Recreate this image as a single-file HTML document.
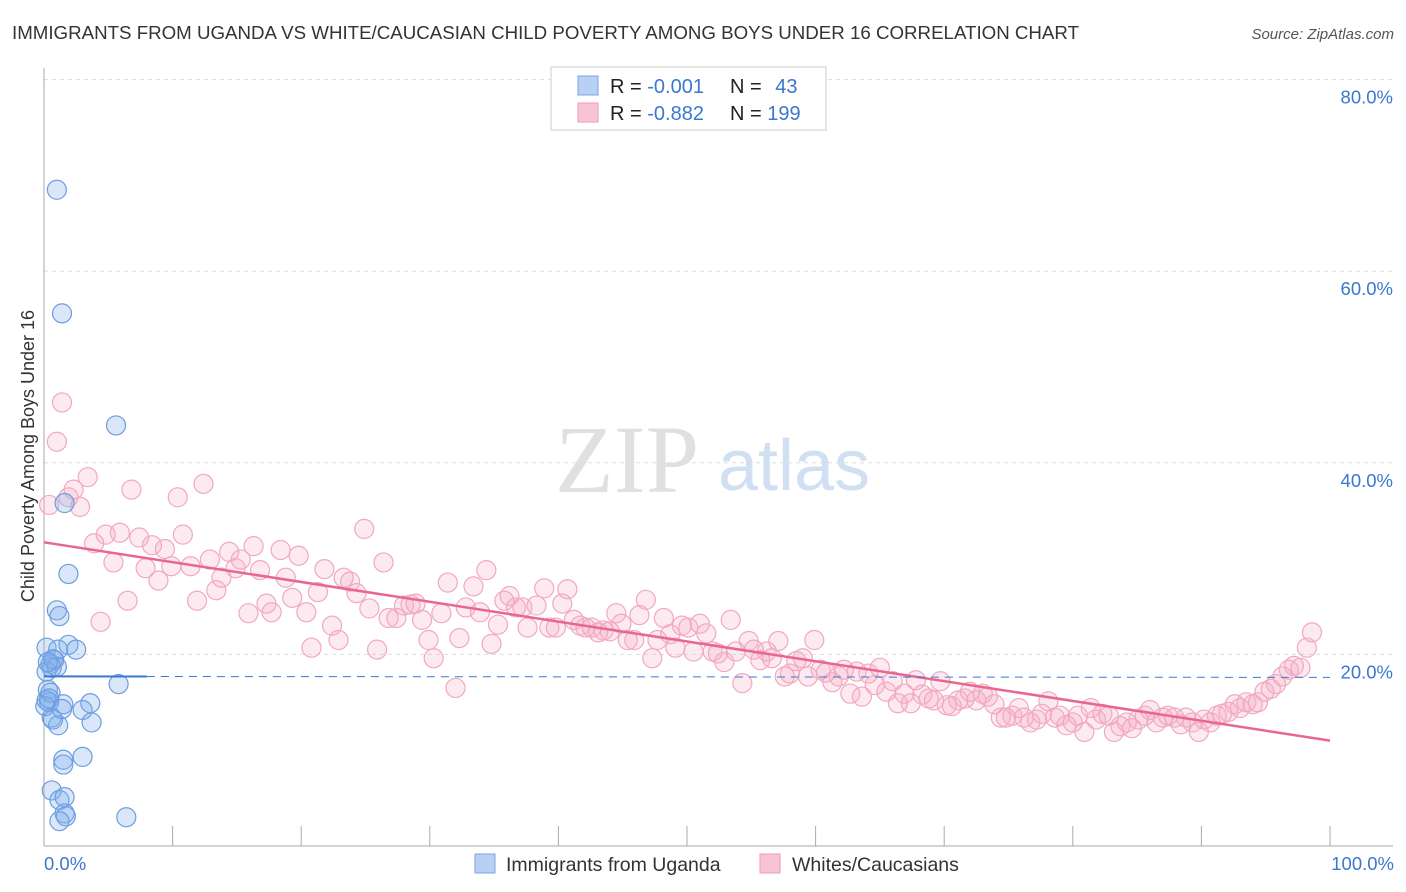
<!DOCTYPE html>
<html><head><meta charset="utf-8"><style>
body{margin:0;background:#fff;font-family:"Liberation Sans",sans-serif;}
#c{position:relative;width:1406px;height:892px;overflow:hidden;}
</style></head><body>
<div id="c">
<svg id="s" width="1406" height="892" xmlns="http://www.w3.org/2000/svg">
<text x="12" y="39" font-size="18" fill="#333" textLength="1067" lengthAdjust="spacingAndGlyphs">IMMIGRANTS FROM UGANDA VS WHITE/CAUCASIAN CHILD POVERTY AMONG BOYS UNDER 16 CORRELATION CHART</text>
<text x="1394" y="39" font-size="15" fill="#555" font-style="italic" text-anchor="end">Source: ZipAtlas.com</text>
<text x="34" y="456" font-size="18" fill="#333" text-anchor="middle" transform="rotate(-90 34 456)">Child Poverty Among Boys Under 16</text>
<text x="555" y="492" font-size="96" fill="#e0e0e0" font-family="Liberation Serif,serif">ZIP</text>
<text x="718" y="490" font-size="72" fill="#d0e0f2">atlas</text>
<g id="grid"></g><g id="axes"></g><g id="pts"></g><g id="lines"></g>
<g>
<rect x="551" y="67" width="275" height="63" fill="#fff" stroke="#ccc"/>
<rect x="578" y="76" width="20" height="19" fill="#b8d0f4" stroke="#7aa6e0"/>
<rect x="578" y="103" width="20" height="19" fill="#f8c4d4" stroke="#ee9ab6"/>
<text x="610" y="93" font-size="20" fill="#222">R = <tspan fill="#3a78d0">-0.001</tspan></text>
<text x="730" y="93" font-size="20" fill="#222">N = <tspan fill="#3a78d0" dx="8">43</tspan></text>
<text x="610" y="120" font-size="20" fill="#222">R = <tspan fill="#3a78d0">-0.882</tspan></text>
<text x="730" y="120" font-size="20" fill="#222">N = <tspan fill="#3a78d0">199</tspan></text>
</g>
<g>
<rect x="475" y="854" width="20" height="19" fill="#b8d0f4" stroke="#7aa6e0"/>
<text x="506" y="871" font-size="19.5" fill="#333">Immigrants from Uganda</text>
<rect x="760" y="854" width="20" height="19" fill="#f8c4d4" stroke="#ee9ab6"/>
<text x="792" y="871" font-size="19.5" fill="#333">Whites/Caucasians</text>
</g>
<text x="44" y="870" font-size="18.5" fill="#3a78d0">0.0%</text>
<text x="1394" y="870" font-size="18.5" fill="#3a78d0" text-anchor="end">100.0%</text>
</svg>
</div>
<script>
const yTicks=[20,40,60,80];
const yTickLabels=["20.0%","40.0%","60.0%","80.0%"];
const xTicks=[10,20,30,40,50,60,70,80,90,100];
const blueX=[1.0,1.4,5.6,1.6,1.9,1.0,1.2,0.2,1.1,1.9,2.5,0.8,0.5,0.6,0.2,5.8,0.3,0.2,0.4,1.5,3.6,3.0,3.7,0.6,1.1,3.0,1.5,1.5,0.6,1.2,1.6,1.6,1.7,1.2,6.4,0.5,0.1,0.7,0.7,0.4,1.0,0.3,1.4];
const blueY=[68.5,55.6,43.9,35.8,28.4,24.6,24.0,20.7,20.5,21.0,20.5,19.4,19.0,18.6,18.2,16.9,16.3,15.2,15.0,14.8,14.9,14.2,12.9,13.4,12.6,9.3,9.0,8.5,5.8,4.8,5.1,3.4,3.1,2.6,3.0,16.0,14.6,19.5,13.2,15.4,18.7,19.2,14.3];
const pinkX=[0.4,1.0,1.4,1.9,2.3,2.8,3.4,3.9,4.4,4.8,5.4,5.9,6.5,6.8,7.4,7.9,8.4,8.9,9.4,9.9,10.4,10.8,11.4,11.9,12.4,12.9,13.4,13.8,14.4,14.9,15.3,15.9,16.3,16.8,17.3,17.7,18.4,18.8,19.3,19.8,20.4,20.8,21.3,21.8,22.4,22.9,23.3,23.8,24.3,24.9,25.3,25.9,26.4,26.8,27.4,28.0,28.5,28.9,29.4,29.9,30.3,30.9,31.4,32.0,32.3,32.8,33.4,33.9,34.4,34.8,35.3,35.8,36.2,36.7,37.2,37.6,38.3,38.9,39.3,39.8,40.3,40.7,41.2,41.7,42.1,42.6,43.1,43.5,44.0,44.5,44.9,45.4,45.9,46.3,46.8,47.3,47.7,48.2,48.7,49.1,49.6,50.1,50.5,51.0,51.5,52.0,52.4,52.9,53.4,53.8,54.3,54.8,55.2,55.7,56.2,56.6,57.1,57.6,58.0,58.5,59.0,59.4,59.9,60.4,60.8,61.3,61.8,62.2,62.7,63.2,63.6,64.1,64.6,65.0,65.5,66.0,66.4,66.9,67.4,67.8,68.3,68.8,69.2,69.7,70.2,70.6,71.1,71.6,72.0,72.5,73.0,73.4,73.9,74.4,74.8,75.3,75.8,76.2,76.7,77.2,77.6,78.1,78.6,79.0,79.5,80.0,80.4,80.9,81.4,81.8,82.3,82.8,83.2,83.7,84.2,84.6,85.1,85.6,86.0,86.5,87.0,87.4,87.9,88.4,88.8,89.3,89.8,90.2,90.7,91.2,91.6,92.1,92.6,93.0,93.5,94.0,94.4,94.9,95.4,95.8,96.3,96.8,97.2,97.7,98.2,98.6,99.0];
const pinkY=[35.6,42.2,46.3,36.4,37.2,35.4,38.5,31.6,23.4,32.5,29.6,32.7,25.6,37.2,32.2,29.0,31.4,27.7,31.0,29.2,36.4,32.5,29.2,25.6,37.8,29.9,26.7,28.0,30.7,29.0,29.9,24.3,31.3,28.8,25.3,24.4,30.9,28.0,25.9,30.3,24.4,20.7,26.5,28.9,23.0,21.5,28.0,27.6,26.4,33.1,24.8,20.5,29.6,23.8,23.8,25.1,25.2,25.3,23.6,21.5,19.6,24.3,27.5,16.5,21.7,24.9,27.1,24.4,28.8,21.1,23.1,25.6,26.1,24.9,24.9,22.8,25.1,26.9,22.8,22.8,25.3,26.8,23.6,23.0,22.8,22.8,22.3,22.5,22.4,24.3,23.2,21.5,21.5,24.1,25.7,19.6,21.5,23.8,22.1,20.7,23.0,22.8,20.3,23.2,22.2,20.3,20.1,19.2,23.6,20.3,17.0,21.4,20.5,19.4,20.3,19.6,21.4,17.7,18.0,19.3,19.6,17.7,21.5,18.4,18.1,17.1,17.7,18.4,15.9,18.2,15.6,18.0,16.8,18.6,16.1,17.2,14.9,15.9,14.9,17.3,15.8,15.4,15.2,17.2,14.7,14.6,15.2,15.4,16.1,15.2,15.9,15.6,14.8,13.4,13.4,13.6,14.4,13.4,12.9,13.2,13.8,15.1,13.4,13.6,12.6,12.9,13.6,11.9,14.4,13.2,13.8,13.6,11.9,12.5,12.9,12.3,13.2,13.6,14.2,12.9,13.4,13.6,13.4,12.7,13.4,12.9,11.9,13.2,12.9,13.6,13.8,14.0,14.8,14.4,15.0,14.8,15.0,16.1,16.4,16.9,17.7,18.4,18.8,18.6,20.7,22.3];
const blueTrend=[17.7,17.6];
const pinkTrend=[31.7,11.0];

const NS="http://www.w3.org/2000/svg";
const X=v=>44+v*12.86, Y=v=>846-v*9.58;
function mk(tag,attrs,parent){const e=document.createElementNS(NS,tag);for(const k in attrs)e.setAttribute(k,attrs[k]);parent.appendChild(e);return e;}
const grid=document.getElementById('grid'),axes=document.getElementById('axes'),pts=document.getElementById('pts'),lines=document.getElementById('lines');
yTicks.forEach((t,i)=>{
  const l=mk('line',{x1:44,x2:1393,y1:Y(t),y2:Y(t),stroke:'#ddd','stroke-dasharray':'4 4'},grid);
  
  
  const tx=mk('text',{x:1393,y:Y(t)+24,'font-size':18.5,fill:'#3a78d0','text-anchor':'end'},grid);
  tx.textContent=yTickLabels[i];
  
  
});
const ya=mk('line',{x1:44,x2:44,y1:68,y2:846,stroke:'#aaa'},axes);


const xa=mk('line',{x1:44,x2:1393,y1:846,y2:846,stroke:'#aaa'},axes);


xTicks.forEach(t=>{
  const l=mk('line',{x1:X(t),x2:X(t),y1:826,y2:846,stroke:'#aaa'},axes);
  
  
});
for(let i=0;i<Math.min(pinkX.length,pinkY.length);i++){
  const c=mk('circle',{cx:X(pinkX[i]),cy:Y(pinkY[i]),r:9.5,fill:'rgba(244,170,195,0.25)',stroke:'#f2a8c0','stroke-width':1.2},pts);
  
  
}
for(let i=0;i<Math.min(blueX.length,blueY.length);i++){
  const c=mk('circle',{cx:X(blueX[i]),cy:Y(blueY[i]),r:9.5,fill:'rgba(130,175,235,0.3)',stroke:'#6d9de0','stroke-width':1.2},pts);
  
  
}
const pl=mk('line',{x1:X(0),y1:Y(pinkTrend[0]),x2:X(100),y2:Y(pinkTrend[1]),stroke:'#e8668f','stroke-width':2.5},lines);


const bs=(blueTrend[1]-blueTrend[0])/100;
const bl=mk('line',{x1:X(0),y1:Y(blueTrend[0]),x2:X(8),y2:Y(blueTrend[0]+bs*8),stroke:'#3a78d0','stroke-width':2},lines);


const bd=mk('line',{x1:X(8),y1:Y(blueTrend[0]+bs*8),x2:X(100),y2:Y(blueTrend[1]),stroke:'#3a78d0','stroke-width':1,'stroke-dasharray':'8 6'},lines);


</script>
</body></html>
